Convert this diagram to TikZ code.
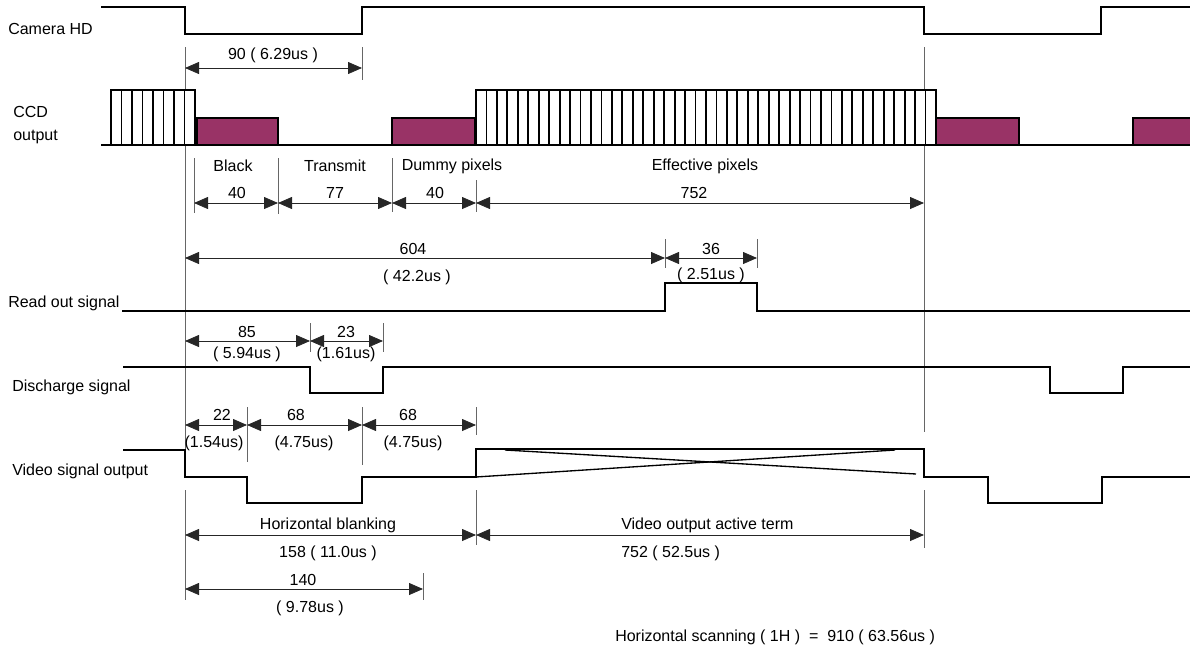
\documentclass[tikz,border=0pt]{standalone}
\usepackage{fontspec}
\setmainfont{Liberation Sans}
\usepackage{tikz}
\usetikzlibrary{arrows.meta}
\definecolor{ccdred}{HTML}{993366}
\tikzset{
wave/.style = { draw = black, line width = 1.6pt },
guide/.style = { draw = black!60, line width = 0.6pt },
dim/.style = { draw = black!85, line width = 0.6pt, {Triangle[length = 10.5pt, width = 9pt]}-{Triangle[length = 10.5pt, width = 9pt]} },
txt/.style = { font = \fontsize{12}{14}\selectfont, inner sep = 0pt },
sig/.style = { txt, anchor = west },
pix/.style = { draw = black, line width = 1.4pt },
blk/.style = { draw = black, line width = 1.2pt, fill = ccdred },
}

\begin{document}
\begin{tikzpicture}[x = 0.75pt, y = -0.75pt]
      \useasboundingbox (0, 0) rectangle (1190, 650);

      % signal names
      \node[sig] (camhd) at (8, 29) {Camera HD};
      \node[sig] (ccd) at (13, 112) {CCD};
      \node[sig] (ccdout) at (13, 137) {output};
      \node[sig] (readout) at (8, 303) {Read out signal};
      \node[sig] (discharge) at (12, 387) {Discharge signal};
      \node[sig] (video) at (12, 471) {Video signal output};

      % guide lines
      \draw[guide] (185, 47) -- (185, 452);
      \draw[guide] (185, 490) -- (185, 600);
      \draw[guide] (924, 47) -- (924, 432);
      \draw[guide] (924, 490) -- (924, 548);
      \draw[guide] (362, 47) -- (362, 80);
      \draw[guide] (194, 158) -- (194, 213);
      \draw[guide] (278, 158) -- (278, 214);
      \draw[guide] (392, 158) -- (392, 212);
      \draw[guide] (476, 180) -- (476, 212);
      \draw[guide] (665, 239) -- (665, 268);
      \draw[guide] (757, 239) -- (757, 268);
      \draw[guide] (310, 323) -- (310, 352);
      \draw[guide] (383, 323) -- (383, 352);
      \draw[guide] (247, 407) -- (247, 462);
      \draw[guide] (362, 407) -- (362, 465);
      \draw[guide] (476, 407) -- (476, 435);
      \draw[guide] (476, 490) -- (476, 545);
      \draw[guide] (423, 573) -- (423, 600);

      % Camera HD
      \draw[wave] (101, 7) -- (185, 7) -- (185, 34) -- (362, 34) -- (362, 7) -- (924, 7)
            -- (924, 34) -- (1101, 34) -- (1101, 7) -- (1190, 7);

      % CCD output
      \draw[wave] (101, 145) -- (1190, 145);
      \draw[pix, fill = white] (111, 90) rectangle (195, 145);
      \foreach \i in {1, ..., 7}
            \draw[pix] ({111 + 10.5 * \i}, 90) -- ++(0, 55);
      \draw[pix, fill = white] (476, 90) rectangle (936, 145);
      \foreach \i in {1, ..., 43}
            \draw[pix] ({476 + 10.4545 * \i}, 90) -- ++(0, 55);
      \draw[blk] (197, 118) rectangle (278, 145);
      \draw[blk] (392, 118) rectangle (475, 145);
      \draw[blk] (936, 118) rectangle (1019, 145);
      \draw[blk] (1133, 118) rectangle (1192, 145);

      % Read out signal
      \draw[wave] (122, 311) -- (665, 311) -- (665, 283) -- (757, 283) -- (757, 311) -- (1190, 311);

      % Discharge signal
      \draw[wave] (123, 367) -- (310, 367) -- (310, 393) -- (383, 393) -- (383, 367) -- (1050, 367)
            -- (1050, 393) -- (1123, 393) -- (1123, 367) -- (1190, 367);

      % Video signal output
      \draw[wave] (123, 450) -- (185, 450) -- (185, 477) -- (247, 477) -- (247, 503) -- (362, 503)
            -- (362, 477) -- (476, 477) -- (476, 449) -- (924, 449) -- (924, 477) -- (988, 477)
            -- (988, 503) -- (1102, 503) -- (1102, 477) -- (1190, 477);
      \draw[line width = 1pt] (476, 477) -- (895, 450);
      \draw[line width = 1pt] (505, 450) -- (916, 474);

      % dimensions
      \draw[dim] (185, 68) -- (362, 68);
      \node[txt] (hdlow) at (273, 55) {90 ( 6.29us )};

      \node[txt] (black) at (233, 166) {Black};
      \node[txt] (transmit) at (335, 166) {Transmit};
      \node[txt] (dummy) at (452, 166) {Dummy pixels};
      \node[txt] (effective) at (705, 166) {Effective pixels};
      \draw[dim] (194, 203) -- (278, 203);
      \draw[dim] (278, 203) -- (392, 203);
      \draw[dim] (392, 203) -- (476, 203);
      \draw[dim] (476, 203) -- (924, 203);
      \node[txt] (nblack) at (237, 193) {40};
      \node[txt] (ntransmit) at (335, 193) {77};
      \node[txt] (ndummy) at (435, 193) {40};
      \node[txt] (neffective) at (694, 193) {752};

      \draw[dim] (185, 258) -- (665, 258);
      \draw[dim] (665, 258) -- (757, 258);
      \node[txt] (nread) at (413, 249) {604};
      \node[txt] (tread) at (417, 277) {( 42.2us )};
      \node[txt] (nreadhi) at (711, 249) {36};
      \node[txt] (treadhi) at (711, 275) {( 2.51us )};

      \draw[dim] (185, 341) -- (310, 341);
      \draw[dim] (310, 341) -- (383, 341);
      \node[txt] (ndis) at (247, 332) {85};
      \node[txt] (tdis) at (247, 354) {( 5.94us )};
      \node[txt] (ndislo) at (346, 332) {23};
      \node[txt] (tdislo) at (346, 354) {(1.61us)};

      \draw[dim] (185, 425) -- (247, 425);
      \draw[dim] (247, 425) -- (362, 425);
      \draw[dim] (362, 425) -- (476, 425);
      \node[txt] (nfront) at (222, 415) {22};
      \node[txt] (tfront) at (214, 443) {(1.54us)};
      \node[txt] (nsync) at (296, 415) {68};
      \node[txt] (tsync) at (304, 443) {(4.75us)};
      \node[txt] (nback) at (408, 415) {68};
      \node[txt] (tback) at (413, 443) {(4.75us)};

      \draw[dim] (185, 535) -- (476, 535);
      \draw[dim] (476, 535) -- (924, 535);
      \node[txt] (blanking) at (328, 525) {Horizontal blanking};
      \node[txt] (nblanking) at (328, 553) {158 ( 11.0us )};
      \node[sig] (active) at (621, 525) {Video output active term};
      \node[sig] (nactive) at (621, 553) {752 ( 52.5us )};

      \draw[dim] (185, 589) -- (423, 589);
      \node[txt] (nsum) at (303, 580) {140};
      \node[txt] (tsum) at (310, 608) {( 9.78us )};

      \node[sig] (scan) at (615, 637) {Horizontal scanning ( 1H )~~=~~910 ( 63.56us )};
\end{tikzpicture}
\end{document}
